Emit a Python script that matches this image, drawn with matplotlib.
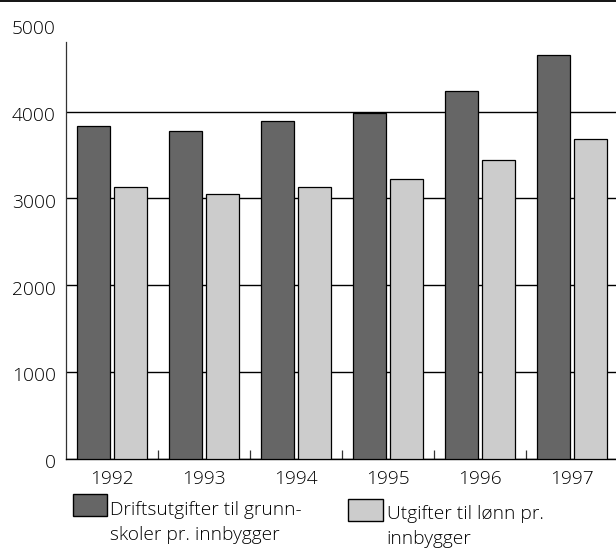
import matplotlib
matplotlib.use("Agg")
import matplotlib.pyplot as plt
import matplotlib.transforms as mtransforms
from matplotlib.patches import Rectangle
from matplotlib.lines import Line2D
import numpy as np

years = ["1992", "1993", "1994", "1995", "1996", "1997"]
drift = [3835, 3777, 3896, 3988, 4242, 4654]
lonn = [3128, 3047, 3135, 3224, 3443, 3680]
yticks = [0, 1000, 2000, 3000, 4000]
top_label = 5000
legend_labels = [["Driftsutgifter til grunn-", "skoler pr. innbygger"],
                 ["Utgifter til lønn pr.", "innbygger"]]

DARK = "#666666"
LIGHT = "#cccccc"
FS = 13.8
plt.rcParams['font.family'] = ['Open Sans', 'DejaVu Sans']
plt.rcParams['font.weight'] = 'light'

W, H = 616, 548
fig = plt.figure(figsize=(W / 100, H / 100), dpi=100)

def fx(x):
    return x / W

def fy(y):
    return 1 - y / H

ax_left, ax_bottom, ax_right, ax_top = 66, 458.5, 618, 41.7
ax = fig.add_axes([fx(ax_left), fy(ax_bottom), (ax_right - ax_left) / W, (ax_bottom - ax_top) / H])

x = np.arange(len(years))
bw = 0.362
off = 0.198
ax.bar(x - off, drift, bw, color=DARK, edgecolor="black", linewidth=0.9, zorder=3)
ax.bar(x + off, lonn, bw, color=LIGHT, edgecolor="black", linewidth=0.9, zorder=3)

ax.set_xlim(-0.5, len(years) - 0.5)
ax.set_ylim(0, 4807)
ax.set_yticks(yticks)
ax.set_yticklabels([str(v) for v in yticks], fontsize=FS, fontweight='light')
ax.yaxis.grid(True, color="black", linewidth=1.0, zorder=1)
ax.set_axisbelow(True)
ax.tick_params(axis="y", length=0, pad=7.2)
shift = mtransforms.ScaledTranslation(0, -2.5 / 100, fig.dpi_scale_trans)
for lab in ax.get_yticklabels():
    lab.set_transform(lab.get_transform() + shift)

ax.set_xticks(x)
ax.set_xticklabels(years, fontsize=FS, fontweight='light')
ax.set_xticks(np.arange(0.5, len(years) - 0.5, 1), minor=True)
ax.tick_params(axis="x", which="major", length=0, pad=8.5)
ax.tick_params(axis="x", which="minor", direction="in", length=6.8, width=0.9, color="#333333")

for s in ["top", "right"]:
    ax.spines[s].set_visible(False)
ax.spines["left"].set_color("#333333")
ax.spines["left"].set_linewidth(0.9)
ax.spines["bottom"].set_color("black")
ax.spines["bottom"].set_linewidth(1.0)

ax.annotate(str(top_label), xy=(0, top_label), xycoords=("axes fraction", "data"),
            xytext=(-7.2, -2.5 * 0.72), textcoords="offset points", ha="right", va="center_baseline",
            fontsize=FS, fontweight='light', annotation_clip=False)

# top border line
fig.add_artist(Line2D([0, 1], [fy(0.8), fy(0.8)], transform=fig.transFigure, color="black", linewidth=1.3))

# legend
fig.add_artist(Rectangle((fx(72.7), fy(516.3)), 34.2 / W, 21.8 / H, transform=fig.transFigure,
                         facecolor=DARK, edgecolor="black", linewidth=1.0))
fig.add_artist(Rectangle((fx(348), fy(520.5)), 35 / W, 21.8 / H, transform=fig.transFigure,
                         facecolor=LIGHT, edgecolor="black", linewidth=1.0))
fig.text(fx(110.5), fy(515), legend_labels[0][0], fontsize=FS, fontweight='light', va="baseline")
fig.text(fx(110.5), fy(540), legend_labels[0][1], fontsize=FS, fontweight='light', va="baseline")
fig.text(fx(386.7), fy(519), legend_labels[1][0], fontsize=FS, fontweight='light', va="baseline")
fig.text(fx(386.7), fy(544), legend_labels[1][1], fontsize=FS, fontweight='light', va="baseline")

fig.savefig("out.png", dpi=100)
